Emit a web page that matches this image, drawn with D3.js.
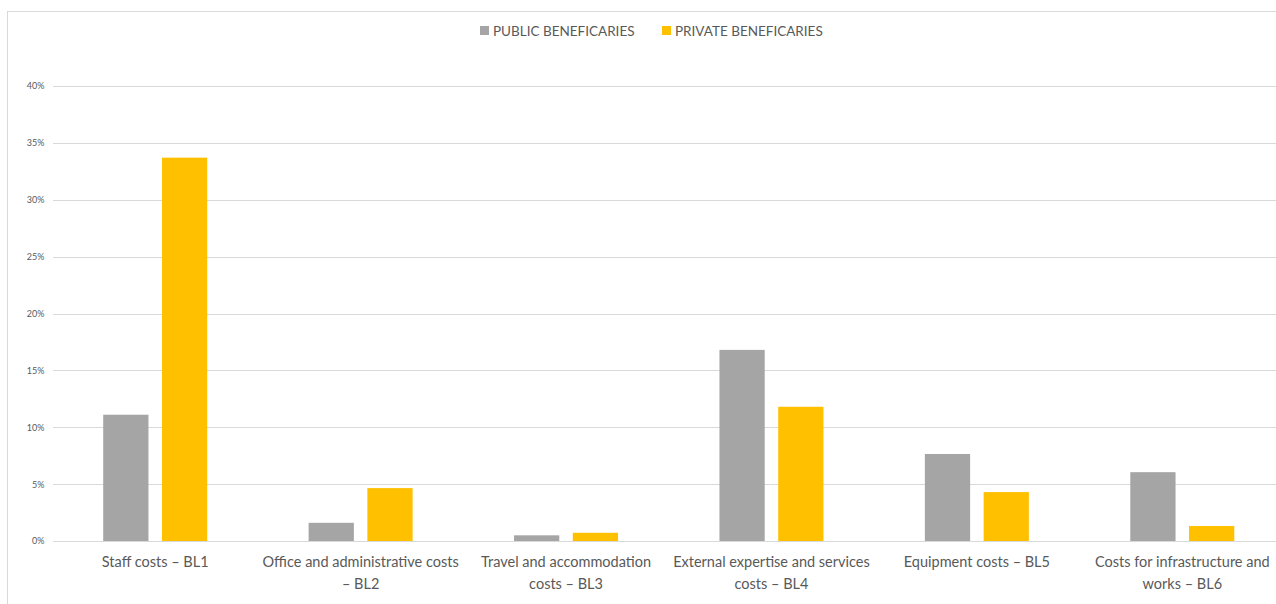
<!DOCTYPE html>
<html lang="en">
<head>
    <meta charset="UTF-8">
    <title>Budget lines by beneficiary type</title>
    <script src="https://d3js.org/d3.v7.min.js"></script>
    <style>
        body { margin: 0; background: #fff; font-family: Lato, "Open Sans", sans-serif; }
        svg { display: block; }
    </style>
</head>
<body>
    <div id="chart"></div>

    <script>
        // Data
        const categories = [
            "Staff costs \u2013 BL1",
            "Office and administrative costs \u2013 BL2",
            "Travel and accommodation costs \u2013 BL3",
            "External expertise and services costs \u2013 BL4",
            "Equipment costs \u2013 BL5",
            "Costs for infrastructure and works \u2013 BL6"
        ];
        const seriesNames = ["PUBLIC BENEFICARIES", "PRIVATE BENEFICARIES"];
        const publicValues = [11.1, 1.6, 0.5, 16.8, 7.65, 6.05];
        const privateValues = [33.7, 4.65, 0.72, 11.8, 4.3, 1.32];
        const yTicks = [0, 5, 10, 15, 20, 25, 30, 35, 40];
        const colors = ["#a5a5a5", "#ffc000"];

        const width = 1276, height = 604;
        const margin = {top: 86, right: -9, bottom: 63, left: 52.5};
        const innerW = width - margin.left - margin.right;
        const innerH = height - margin.top - margin.bottom;

        const svg = d3.select("#chart").append("svg")
            .attr("width", width)
            .attr("height", height);

        // chart frame
        svg.append("rect")
            .attr("x", 7.5).attr("y", 11.5)
            .attr("width", width + 20).attr("height", height + 20)
            .attr("fill", "none")
            .attr("stroke", "#d9d9d9")
            .attr("stroke-width", 1);

        const g = svg.append("g")
            .attr("transform", `translate(${margin.left},${margin.top})`);

        const x = d3.scaleBand()
            .domain(categories)
            .range([0, innerW])
            .paddingInner(0)
            .paddingOuter(0);

        const x1 = d3.scaleBand()
            .domain(seriesNames)
            .range([x.bandwidth() / 2 - 52, x.bandwidth() / 2 + 52])
            .paddingInner(0.23);

        const y = d3.scaleLinear()
            .domain([0, 40])
            .range([innerH, 0]);

        // gridlines + y labels
        const yAxis = g.append("g")
            .call(d3.axisLeft(y).tickValues(yTicks).tickSize(-innerW).tickPadding(8)
                .tickFormat(d => d + "%"));
        yAxis.select(".domain").remove();
        yAxis.selectAll(".tick line").attr("stroke", "#d9d9d9").attr("shape-rendering", "crispEdges");
        yAxis.selectAll(".tick text")
            .attr("fill", "#595959")
            .style("font-size", "9px")
            .style("font-family", "Lato, sans-serif");

        const rows = categories.map((c, i) => ({cat: c, vals: [publicValues[i], privateValues[i]]}));

        const groups = g.selectAll(".cat")
            .data(rows)
            .enter().append("g")
            .attr("class", "cat")
            .attr("transform", d => `translate(${x(d.cat)},0)`);

        groups.selectAll("rect")
            .data(d => d.vals.map((v, j) => ({name: seriesNames[j], v: v, j: j})))
            .enter().append("rect")
            .attr("x", d => x1(d.name))
            .attr("width", x1.bandwidth())
            .attr("y", d => y(d.v))
            .attr("height", d => innerH - y(d.v))
            .attr("fill", d => colors[d.j]);

        // category labels with wrapping
        const xAxis = g.append("g")
            .attr("transform", `translate(0,${innerH})`)
            .call(d3.axisBottom(x).tickSize(0).tickPadding(16));
        xAxis.select(".domain").remove();
        xAxis.selectAll(".tick text")
            .attr("fill", "#595959")
            .style("font-size", "14.5px")
            .style("font-family", "Lato, sans-serif")
            .call(wrap, 205);

        function wrap(texts, maxW) {
            texts.each(function() {
                const text = d3.select(this);
                const words = text.text().split(/\s+/);
                const yAttr = text.attr("y");
                const dy = parseFloat(text.attr("dy"));
                text.text(null);
                let line = [];
                let lineNo = 0;
                let tspan = text.append("tspan").attr("x", 0).attr("y", yAttr).attr("dy", dy + "em");
                words.forEach(w => {
                    line.push(w);
                    tspan.text(line.join(" "));
                    if (tspan.node().getComputedTextLength() > maxW && line.length > 1) {
                        line.pop();
                        tspan.text(line.join(" "));
                        line = [w];
                        lineNo++;
                        tspan = text.append("tspan").attr("x", 0).attr("y", yAttr)
                            .attr("dy", (dy + lineNo * 1.5) + "em").text(w);
                    }
                });
            });
        }

        // legend
        const legend = svg.append("g").attr("transform", "translate(0,31)");
        const legendX = [480, 662];
        seriesNames.forEach((name, i) => {
            const item = legend.append("g").attr("transform", `translate(${legendX[i]},0)`);
            item.append("rect")
                .attr("x", 0).attr("y", -5)
                .attr("width", 9).attr("height", 9)
                .attr("fill", colors[i]);
            item.append("text")
                .attr("x", 13).attr("y", 0)
                .attr("dy", "0.35em")
                .attr("fill", "#595959")
                .style("font-size", "13.5px")
                .style("font-family", "Lato, sans-serif")
                .text(name);
        });
    </script>
</body>
</html>
